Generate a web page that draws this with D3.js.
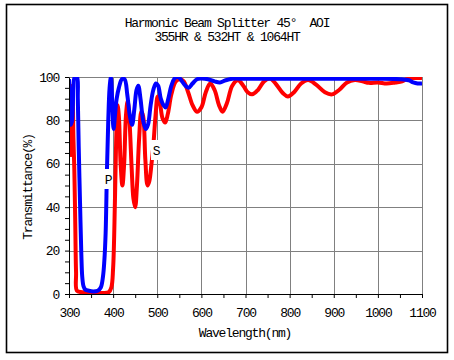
<!DOCTYPE html>
<html><head><meta charset="utf-8">
<script src="https://cdn.jsdelivr.net/npm/d3@7"></script>
<style>
body{margin:0;background:#fff;}
text{font-family:"Liberation Mono","DejaVu Sans Mono",monospace;font-size:13px;letter-spacing:-1.2px;fill:#000;white-space:pre;}
</style></head>
<body><svg id="c" width="454" height="360"></svg>
<script>
const titleLines = ["Harmonic Beam Splitter 45°  AOI", "355HR & 532HT & 1064HT"];
const xLabel = "Wavelength(nm)";
const yLabel = "Transmittance(%)";
const xTicks = [300,400,500,600,700,800,900,1000,1100];
const yTicks = [0,20,40,60,80,100];

// S polarisation (red)
const sWave = [300,302,304,306,308,310,312,314,316,318,330,350,370,390,396,400,404,407,410,413,417,421,425,429,433,437,442,446,450,454,459,464,468,473,478,482,487,491,496,501,506,512,518,524,532,542,552,560,570,580,590,600,610,620,630,640,648,658,670,683,695,705,715,728,742,756,770,785,796,810,826,842,860,880,896,912,930,948,965,980,1000,1020,1040,1055,1065,1080,1100];
const sT    = [97,93,64,78,96,72,58,35,10,1.5,0.8,0.5,0.5,0.8,3,12,42,72,87,82,60,50,60,82,89,80,58,44,40,50,72,84,82,62,50,52,60,68,82,91,88,81,79,83,92,98,99,98,93,87,84,86,93,97,94,87,84,88,96,98.5,96,93,92,94,98,99.3,96.5,92.5,91,93,97,98.6,96.5,93,92,94,97.5,98.6,98,97.3,97.5,97,97.5,98,99,99.5,99.5];

// P polarisation (blue)
const pWave = [300,302,304,307,310,313,318,320,322,325,328,330,333,337,345,355,365,372,377,380,383,386,389,392,395,398,401,404,408,413,420,426,432,438,443,448,453,457,462,468,474,479,485,491,497,502,508,514,519,525,532,540,548,556,564,571,580,590,600,615,630,642,655,670,700,800,900,1000,1050,1070,1080,1090,1100];
const pT    = [99,90,78,80,95,100,100,90,68,42,18,8,3.5,2,1.5,1.2,1.5,3,8,15,28,57,80,95,100,88,76,82,90,95,99,99,92,82,78,85,94,96,90,80,76,78,87,94,97,96,90,87,86,90,96,99.5,100,98,96,95,97,99,99.3,99,98,97.5,98.5,99.2,99.2,99.2,99.2,99.2,99,98.5,97.5,97,97];

const svg = d3.select("#c");
const L=69, R=422, T=77, B=294;
const x = d3.scaleLinear().domain([300,1100]).range([L,R]);
const y = d3.scaleLinear().domain([0,100]).range([B,T]);

// outer frame
svg.append("rect").attr("x",6.5).attr("y",4.5).attr("width",441).attr("height",348)
  .attr("fill","none").attr("stroke","#000").attr("stroke-width",1.6);

// title
svg.append("text").attr("x",227).attr("y",27).attr("text-anchor","middle").text(titleLines[0]);
svg.append("text").attr("x",227).attr("y",41).attr("text-anchor","middle").text(titleLines[1]);

// grid
const g = svg.append("g");
g.selectAll(".gx").data(xTicks.filter(d=>d>300)).join("line")
  .attr("x1",d=>Math.round(x(d))+0.5).attr("x2",d=>Math.round(x(d))+0.5)
  .attr("y1",T).attr("y2",B).attr("stroke","#808080").attr("stroke-width",1);
g.selectAll(".gy").data(yTicks.filter(d=>d>0)).join("line")
  .attr("y1",d=>Math.round(y(d))+0.5).attr("y2",d=>Math.round(y(d))+0.5)
  .attr("x1",L).attr("x2",R).attr("stroke","#808080").attr("stroke-width",1);

// curves
svg.append("clipPath").attr("id","pc").append("rect")
  .attr("x",L).attr("y",T).attr("width",R-L).attr("height",B-T);
const line = d3.line().x(d=>x(d[0])).y(d=>y(d[1])).curve(d3.curveCatmullRom.alpha(0.5));
const sData = sWave.map((w,i)=>[w,sT[i]]);
const pData = pWave.map((w,i)=>[w,pT[i]]);
const cg = svg.append("g").attr("clip-path","url(#pc)");
cg.append("path").attr("d",line(sData)).attr("fill","none").attr("stroke","#ff0000")
  .attr("stroke-width",4).attr("stroke-linejoin","round");
cg.append("path").attr("d",line(pData)).attr("fill","none").attr("stroke","#0000ff")
  .attr("stroke-width",4).attr("stroke-linejoin","round");

// axes
const xa = svg.append("g").attr("transform",`translate(0,${B})`)
  .call(d3.axisBottom(x).tickValues(d3.range(300,1101,50)).tickSize(4).tickSizeOuter(0).tickPadding(10)
    .tickFormat(d=> xTicks.includes(d)? d : ""));
const ya = svg.append("g").attr("transform",`translate(${L},0)`)
  .call(d3.axisLeft(y).tickValues(d3.range(0,101,5)).tickSize(4).tickSizeOuter(0).tickPadding(6)
    .tickFormat(d=> yTicks.includes(d)? d : ""));
[xa,ya].forEach(a=>{
  a.selectAll("text").attr("font-family",null).attr("font-size",null).style("font-size","13px");
  a.selectAll("line,path").attr("stroke","#000");
});

// axis labels
svg.append("text").attr("x",245).attr("y",337).attr("text-anchor","middle").text(xLabel);
svg.append("text").attr("transform","translate(32,187) rotate(-90)").attr("text-anchor","middle").text(yLabel);

// curve labels
function tag(lbl, cx, cy){
  svg.append("rect").attr("x",cx-5).attr("y",cy-10).attr("width",10).attr("height",20).attr("fill","#fff");
  svg.append("text").attr("x",cx).attr("y",cy+4.5).attr("text-anchor","middle").text(lbl);
}
tag("P", 108, 179);
tag("S", 156, 150);
</script></body></html>
